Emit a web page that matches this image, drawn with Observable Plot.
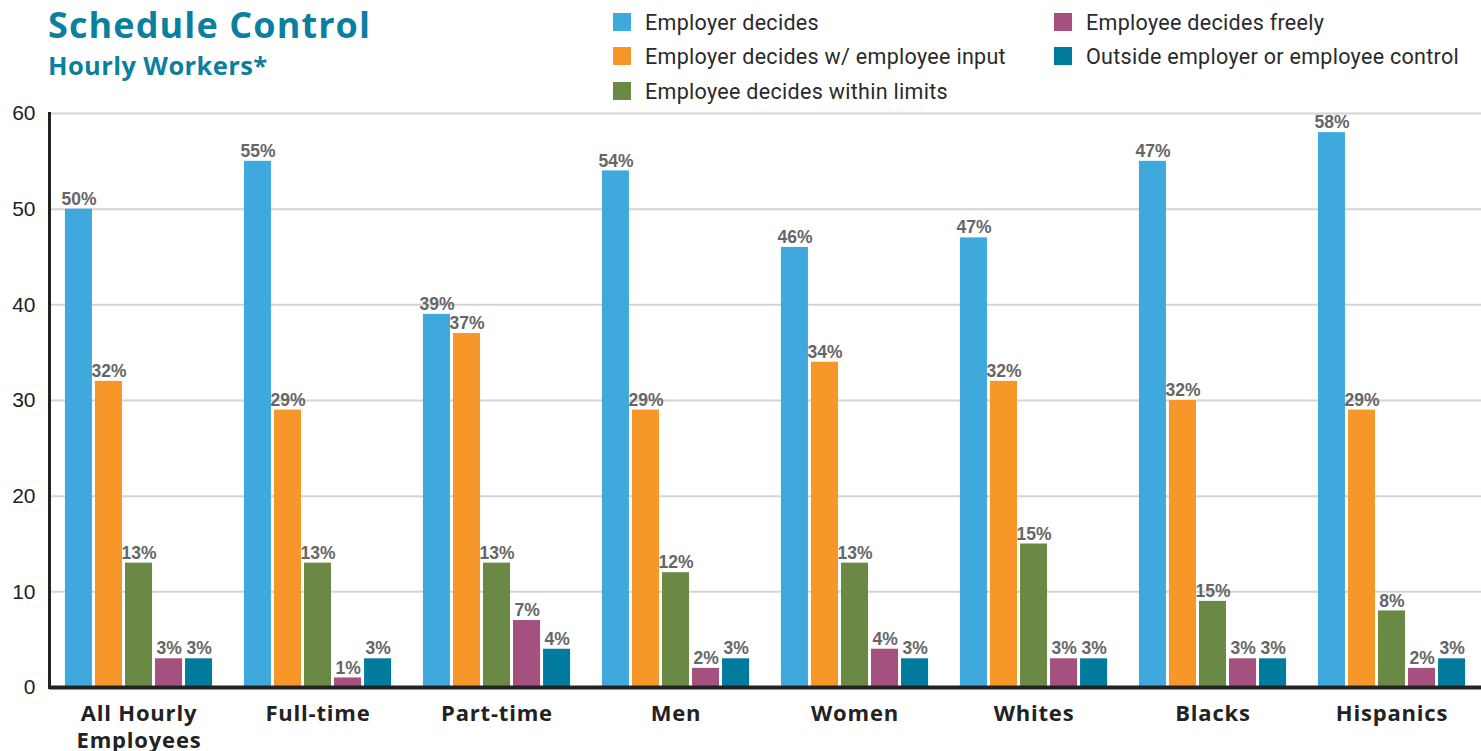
<!DOCTYPE html>
<html>
<head>
<meta charset="utf-8">
<script src="https://cdn.jsdelivr.net/npm/d3@7"></script>
<script src="https://cdn.jsdelivr.net/npm/@observablehq/plot@0.6"></script>
<style>
  body { margin: 0; background: #fff; width: 1481px; height: 751px; overflow: hidden; position: relative; }
  #title { position: absolute; left: 48px; top: 0px; line-height: 48px; font: bold 36px 'Open Sans', sans-serif; color: #0a7f9f; letter-spacing: 1.1px; z-index: 2; }
  #subtitle { position: absolute; left: 48px; top: 48px; line-height: 30px; font: bold 25.5px 'Open Sans', sans-serif; color: #0a7f9f; letter-spacing: 0.4px; z-index: 2; }
  .leg { position: absolute; display: flex; align-items: center; height: 24px; font: 21.5px Roboto, sans-serif; color: #2a2a2a; white-space: nowrap; letter-spacing: 0.3px; z-index: 2; }
  .leg span.sw { display: inline-block; width: 18px; height: 18px; margin-right: 14px; }
  #chart { position: absolute; left: 0; top: 100px; z-index: 1; }
  g[aria-label="fx-axis tick label"] text { letter-spacing: 0.8px; }
</style>
</head>
<body>
<div id="title">Schedule Control</div>
<div id="subtitle">Hourly Workers*</div>
<div id="legend"></div>
<div id="chart"></div>
<script>
// ---- data ----
const groups = ["All Hourly\nEmployees", "Full-time", "Part-time", "Men", "Women", "Whites", "Blacks", "Hispanics"];
const series = ["Employer decides", "Employer decides w/ employee input", "Employee decides within limits", "Employee decides freely", "Outside employer or employee control"];
const colors = ["#3fa9de", "#f7972a", "#6a8945", "#a5517f", "#007b9e"];

// bar heights as drawn
const employerDecides   = [50, 55, 39, 54, 46, 47, 55, 58];
const employerInput     = [32, 29, 37, 29, 34, 32, 30, 29];
const withinLimits      = [13, 13, 13, 12, 13, 15, 9, 8];
const decidesFreely     = [3, 1, 7, 2, 4, 3, 3, 2];
const outsideControl    = [3, 3, 4, 3, 3, 3, 3, 3];

// printed labels (as shown on the chart)
const employerDecidesLabels = ["50%", "55%", "39%", "54%", "46%", "47%", "47%", "58%"];
const employerInputLabels   = ["32%", "29%", "37%", "29%", "34%", "32%", "32%", "29%"];
const withinLimitsLabels    = ["13%", "13%", "13%", "12%", "13%", "15%", "15%", "8%"];
const decidesFreelyLabels   = ["3%", "1%", "7%", "2%", "4%", "3%", "3%", "2%"];
const outsideControlLabels  = ["3%", "3%", "4%", "3%", "3%", "3%", "3%", "3%"];

const yTicks = [0, 10, 20, 30, 40, 50, 60];

// ---- build table ----
const valueArrays = [employerDecides, employerInput, withinLimits, decidesFreely, outsideControl];
const labelArrays = [employerDecidesLabels, employerInputLabels, withinLimitsLabels, decidesFreelyLabels, outsideControlLabels];
const rows = [];
groups.forEach((g, i) => series.forEach((s, j) => rows.push({group: g, series: s, value: valueArrays[j][i], label: labelArrays[j][i]})));

// ---- legend ----
const legendPos = [[613, 22], [613, 56], [613, 91], [1054, 22], [1054, 56]];
const legend = document.getElementById("legend");
series.forEach((s, j) => {
  const d = document.createElement("div");
  d.className = "leg";
  d.style.left = legendPos[j][0] + "px";
  d.style.top = (legendPos[j][1] - 12) + "px";
  d.innerHTML = `<span class="sw" style="background:${colors[j]}"></span><span>${s}</span>`;
  legend.appendChild(d);
});

// ---- chart ----
const chart = Plot.plot({
  width: 1481,
  height: 651,
  marginTop: 13,
  marginBottom: 64,
  marginLeft: 49,
  marginRight: 0,
  style: {fontFamily: "'Liberation Sans', Arial, sans-serif", background: "transparent", overflow: "visible"},
  fx: {domain: groups, padding: 0, label: null},
  x: {domain: series, paddingInner: 0.1, paddingOuter: 0.53, round: false, axis: null},
  y: {domain: [0, 60], label: null},
  color: {domain: series, range: colors},
  marks: [
    Plot.ruleY(yTicks, {stroke: "#d4d4d4", strokeWidth: 2}),
    Plot.axisY({ticks: yTicks, tickSize: 0, tickPadding: 14, fontSize: 21, fill: "#222", label: null}),
    Plot.axisFx({anchor: "bottom", tickSize: 0, tickPadding: 15, fontSize: 22, fontWeight: "bold", fontFamily: "'Open Sans', sans-serif", fill: "#222", label: null, lineHeight: 1.2}),
    Plot.barY(rows, {fx: "group", x: "series", y: "value", fill: "series"}),
    Plot.text(rows, {fx: "group", x: "series", y: "value", text: "label", dy: -10, fontSize: 17.5, fontWeight: "bold", fill: "#666"}),
    Plot.ruleY([0], {stroke: "#222", strokeWidth: 4}),
    Plot.frame({anchor: "left", facetAnchor: "left", stroke: "#222", strokeWidth: 3})
  ]
});
document.getElementById("chart").appendChild(chart);
</script>
</body>
</html>
